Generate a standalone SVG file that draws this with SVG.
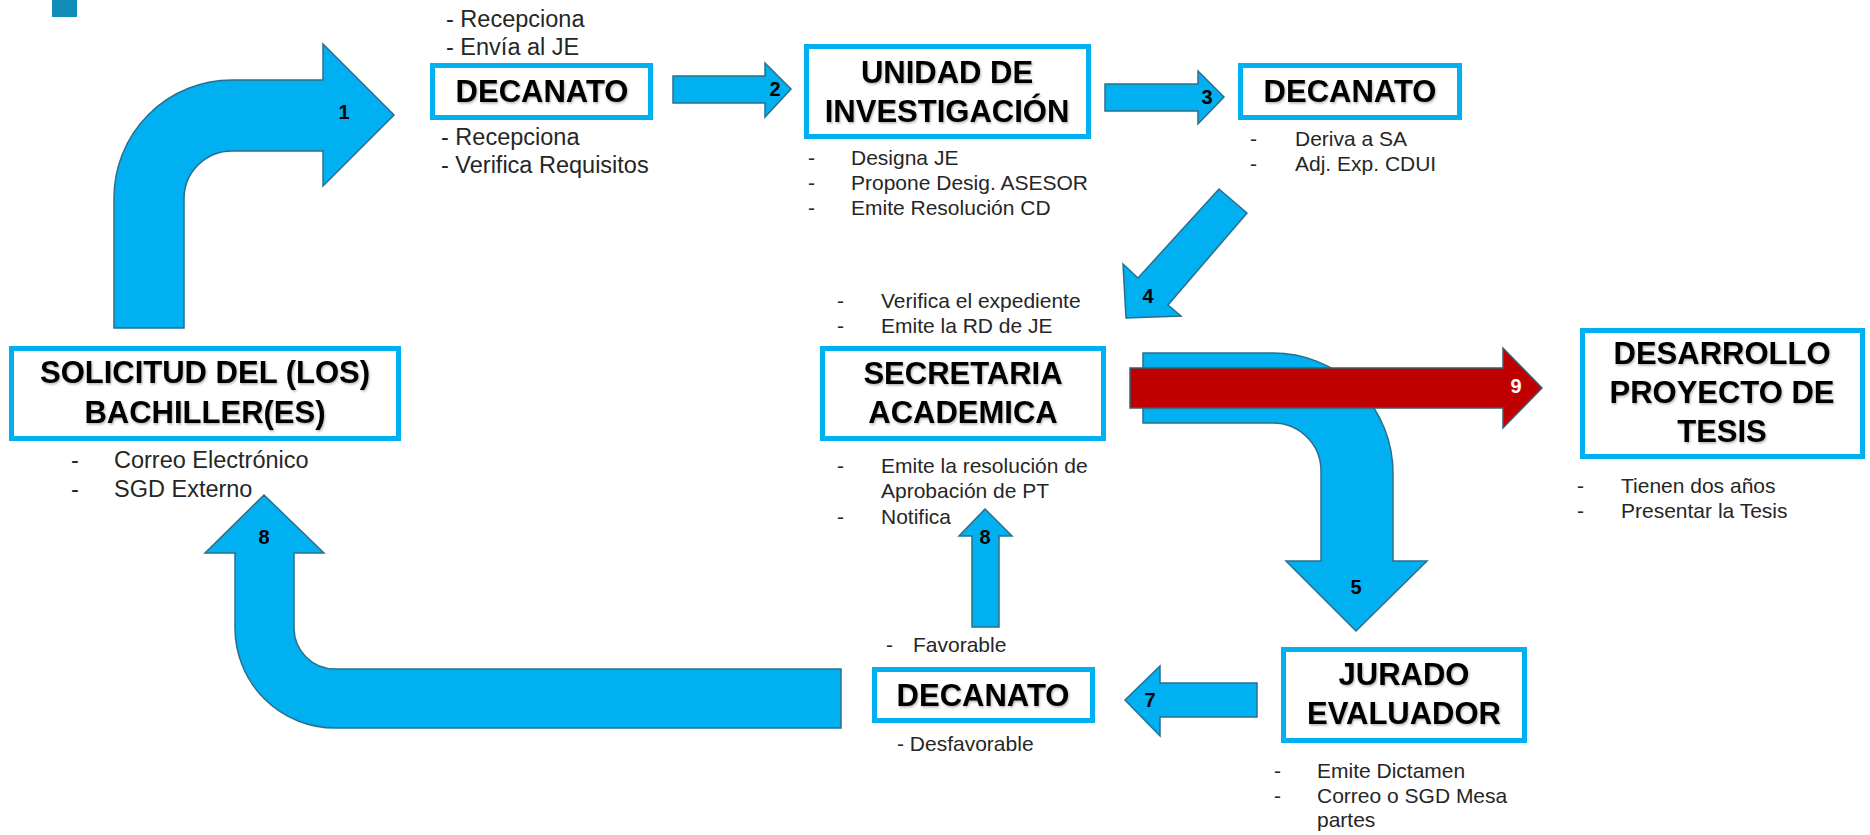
<svg xmlns="http://www.w3.org/2000/svg" width="1870" height="835" viewBox="0 0 1870 835">
<defs>
<style>
.box{fill:#fff;stroke:#00b0f0;stroke-width:5}
.title{font-family:"Liberation Sans",Arial,sans-serif;font-weight:bold;font-size:31px;fill:#000;text-anchor:middle}
.lst{font-family:"Liberation Sans",Arial,sans-serif;font-size:21px;fill:#262626}
.lg{font-size:23.5px}
.arr{fill:#00b0f0;stroke:#2a6f8c;stroke-width:1.5;stroke-linejoin:miter}
.red{fill:#c00000;stroke:#3b5e70;stroke-width:1.5}
.num{font-family:"Liberation Sans",Arial,sans-serif;font-weight:bold;font-size:20px;fill:#000;text-anchor:middle}
</style>
<filter id="sh" x="-5%" y="-20%" width="110%" height="140%">
<feDropShadow dx="1" dy="1.5" stdDeviation="1" flood-color="#000" flood-opacity="0.3"/>
</filter>
</defs>
<rect x="0" y="0" width="1870" height="835" fill="#fff"/>
<rect x="52" y="0" width="25" height="17" fill="#108db9"/>

<g id="connectors">
<path class="arr" d="M114,328 L114,198 A118,118 0 0 1 232,80 L323,80 L323,44 L394,115 L323,186 L323,151 L232,151 A48,48 0 0 0 184,199 L184,328 Z"/>
<text class="num" x="344" y="119">1</text>
<path class="arr" d="M673,76 L765,76 L765,63 L791,89 L765,117 L765,103 L673,103 Z"/>
<text class="num" x="775" y="96">2</text>
<path class="arr" d="M1105,84 L1198,84 L1198,71 L1224,97 L1198,124 L1198,111 L1105,111 Z"/>
<text class="num" x="1207" y="104">3</text>
<path class="arr" d="M1219,189 L1247,213 L1168,305 L1181,316 L1126,318 L1123,264 L1138,278 Z"/>
<text class="num" x="1148" y="303">4</text>
<path class="arr" d="M1143,353 L1273,353 A120,120 0 0 1 1393,473 L1393,561 L1427,561 L1356,631 L1286,561 L1321,561 L1321,471 A48,48 0 0 0 1273,423 L1143,423 Z"/>
<text class="num" x="1356" y="594">5</text>
<path class="red" d="M1130,368 L1503,368 L1503,348 L1542,388 L1503,428 L1503,408 L1130,408 Z"/>
<text class="num" x="1516" y="393" fill="#fff" style="fill:#fff">9</text>
<path class="arr" d="M1257,683 L1160,683 L1160,666 L1125,700 L1160,736 L1160,717 L1257,717 Z"/>
<text class="num" x="1150" y="707">7</text>
<path class="arr" d="M985,509 L1012,536 L999,536 L999,627 L972,627 L972,536 L959,536 Z"/>
<text class="num" x="985" y="544">8</text>
<path class="arr" d="M264,495 L324,553 L294,553 L294,628 A41,41 0 0 0 335,669 L841,669 L841,728 L335,728 A100,100 0 0 1 235,628 L235,553 L205,553 Z"/>
<text class="num" x="264" y="544">8</text>
</g>

<g id="decanato1">
<text class="lst lg" x="446" y="27">- Recepciona</text>
<text class="lst lg" x="446" y="55">- Envía al JE</text>
<rect class="box" x="432.5" y="65.5" width="218" height="52"/>
<text class="title" x="542" y="102" filter="url(#sh)">DECANATO</text>
<text class="lst lg" x="441" y="145">- Recepciona</text>
<text class="lst lg" x="441" y="173">- Verifica Requisitos</text>
</g>

<g id="unidad">
<rect class="box" x="806.5" y="46.5" width="282" height="90"/>
<text class="title" x="947" y="83" filter="url(#sh)">UNIDAD DE</text>
<text class="title" x="947" y="122" filter="url(#sh)">INVESTIGACIÓN</text>
<text class="lst" x="808" y="165">-</text><text class="lst" x="851" y="165">Designa JE</text>
<text class="lst" x="808" y="190">-</text><text class="lst" x="851" y="190">Propone Desig. ASESOR</text>
<text class="lst" x="808" y="215">-</text><text class="lst" x="851" y="215">Emite Resolución CD</text>
</g>

<g id="decanato2">
<rect class="box" x="1240.5" y="65.5" width="219" height="52"/>
<text class="title" x="1350" y="102" filter="url(#sh)">DECANATO</text>
<text class="lst" x="1250" y="146">-</text><text class="lst" x="1295" y="146">Deriva a SA</text>
<text class="lst" x="1250" y="171">-</text><text class="lst" x="1295" y="171">Adj. Exp. CDUI</text>
</g>

<g id="solicitud">
<rect class="box" x="11.5" y="348.5" width="387" height="90"/>
<text class="title" x="205" y="383" filter="url(#sh)">SOLICITUD DEL (LOS)</text>
<text class="title" x="205" y="423" filter="url(#sh)">BACHILLER(ES)</text>
<text class="lst lg" x="71" y="468">-</text><text class="lst lg" x="114" y="468">Correo Electrónico</text>
<text class="lst lg" x="71" y="497">-</text><text class="lst lg" x="114" y="497">SGD Externo</text>
</g>

<g id="secretaria">
<text class="lst" x="837" y="308">-</text><text class="lst" x="881" y="308">Verifica el expediente</text>
<text class="lst" x="837" y="333">-</text><text class="lst" x="881" y="333">Emite la RD de JE</text>
<rect class="box" x="822.5" y="348.5" width="281" height="90"/>
<text class="title" x="963" y="384" filter="url(#sh)">SECRETARIA</text>
<text class="title" x="963" y="423" filter="url(#sh)">ACADEMICA</text>
<text class="lst" x="837" y="473">-</text><text class="lst" x="881" y="473">Emite la resolución de</text>
<text class="lst" x="881" y="498">Aprobación de PT</text>
<text class="lst" x="837" y="524">-</text><text class="lst" x="881" y="524">Notifica</text>
</g>

<g id="desarrollo">
<rect class="box" x="1582.5" y="330.5" width="280" height="126"/>
<text class="title" x="1722" y="364" filter="url(#sh)">DESARROLLO</text>
<text class="title" x="1722" y="403" filter="url(#sh)">PROYECTO DE</text>
<text class="title" x="1722" y="442" filter="url(#sh)">TESIS</text>
<text class="lst" x="1577" y="493">-</text><text class="lst" x="1621" y="493">Tienen dos años</text>
<text class="lst" x="1577" y="518">-</text><text class="lst" x="1621" y="518">Presentar la Tesis</text>
</g>

<g id="jurado">
<rect class="box" x="1283.5" y="649.5" width="241" height="91"/>
<text class="title" x="1404" y="685" filter="url(#sh)">JURADO</text>
<text class="title" x="1404" y="724" filter="url(#sh)">EVALUADOR</text>
<text class="lst" x="1274" y="778">-</text><text class="lst" x="1317" y="778">Emite Dictamen</text>
<text class="lst" x="1274" y="803">-</text><text class="lst" x="1317" y="803">Correo o SGD Mesa</text>
<text class="lst" x="1317" y="827">partes</text>
</g>

<g id="decanato3">
<text class="lst" x="886" y="652">-</text><text class="lst" x="913" y="652">Favorable</text>
<rect class="box" x="874.5" y="669.5" width="218" height="51"/>
<text class="title" x="983" y="706" filter="url(#sh)">DECANATO</text>
<text class="lst" x="897" y="751">- Desfavorable</text>
</g>
</svg>
